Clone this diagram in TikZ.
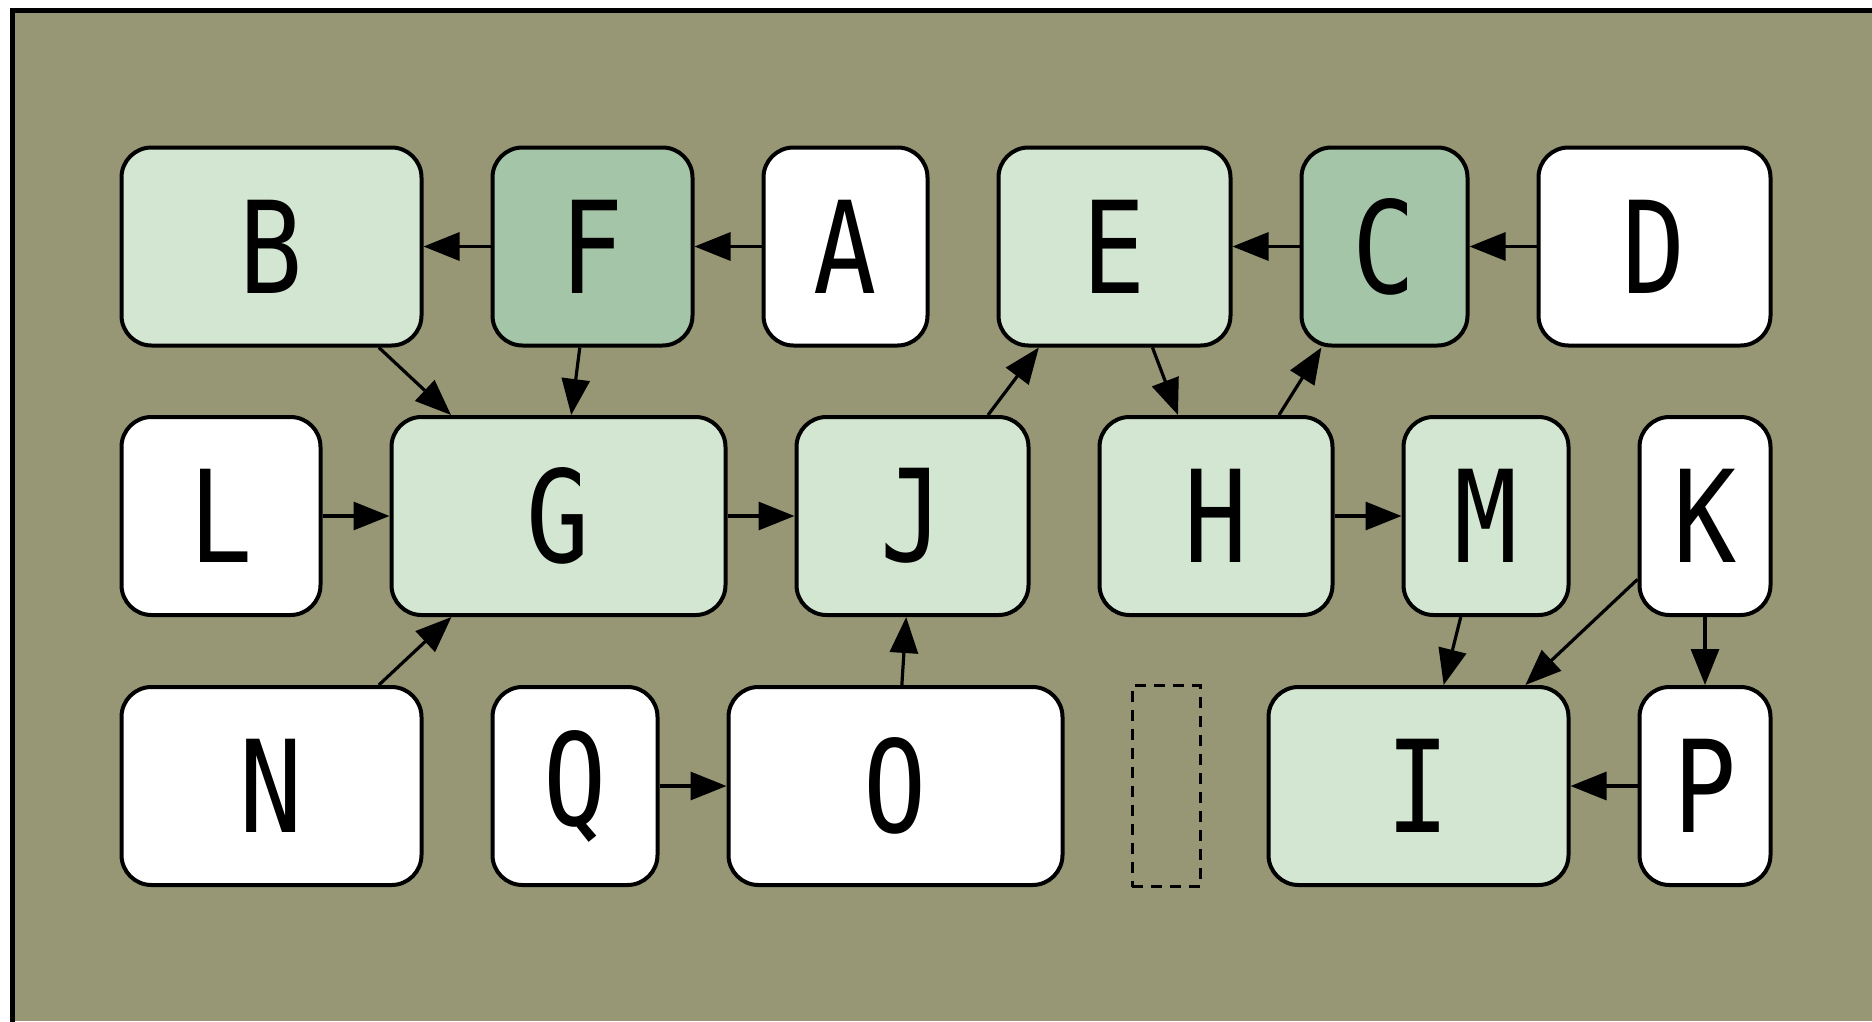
\documentclass[tikz,border=0pt]{standalone}
\usepackage{fontspec}
\setmonofont[FakeStretch=0.82]{DejaVu Sans Mono}
\usetikzlibrary{arrows.meta}
\definecolor{bgolive}{HTML}{979776}
\definecolor{lightgr}{HTML}{D3E6D1}
\definecolor{darkgr}{HTML}{A5C5A8}
\tikzset{
  box/.style={draw=black, line width=4pt, rounded corners=30pt, minimum height=198pt,
    inner sep=0pt, font=\ttfamily\fontsize{128}{128}\selectfont, text=black},
  lbox/.style={box, fill=lightgr},
  dbox/.style={box, fill=darkgr},
  wbox/.style={box, fill=white},
  edge/.style={draw=black, line width=3.2pt, -{Triangle[length=36pt,width=28pt]}},
}
\begin{document}
\begin{tikzpicture}[x=1pt,y=-1pt]
\fill[white] (0,0) rectangle (1872,1021);
\useasboundingbox (0,0) rectangle (1872,1021);
\fill[bgolive] (12.5,10.8) rectangle (1872,1021);
\draw[line width=5pt] (12.5,1030) -- (12.5,10.8) -- (1880,10.8);

% row 1
\node[lbox, minimum width=300pt] (B) at (271.5,246.5) {B};
\node[dbox, minimum width=200pt] (F) at (592.5,246.5) {F};
\node[wbox, minimum width=164pt] (A) at (845.5,246.5) {A};
\node[lbox, minimum width=232pt] (E) at (1114.5,246.5) {E};
\node[dbox, minimum width=166pt] (C) at (1384.5,246.5) {C};
\node[wbox, minimum width=232pt] (D) at (1654.5,246.5) {D};
% row 2
\node[wbox, minimum width=199pt] (L) at (221,516) {L};
\node[lbox, minimum width=334pt] (G) at (558.5,516) {G};
\node[lbox, minimum width=232pt] (J) at (912.5,516) {J};
\node[lbox, minimum width=233pt] (H) at (1216,516) {H};
\node[lbox, minimum width=165pt] (M) at (1486,516) {M};
\node[wbox, minimum width=131pt] (K) at (1705,516) {K};
% row 3
\node[wbox, minimum width=300pt] (N) at (271.5,786) {N};
\node[wbox, minimum width=165pt] (Q) at (575,786) {Q};
\node[wbox, minimum width=334pt] (O) at (895.5,786) {O};
\node[draw=black, dashed, dash pattern=on 11pt off 8pt, line width=3pt, minimum width=68pt, minimum height=201pt, inner sep=0pt] (X) at (1166,786) {};
\node[lbox, minimum width=300pt] (I) at (1418.5,786) {I};
\node[wbox, minimum width=131pt] (P) at (1705,786) {P};

% edges
\draw[edge] (F) -- (B);
\draw[edge] (A) -- (F);
\draw[edge] (C) -- (E);
\draw[edge] (D) -- (C);
\draw[edge] (B) -- (G);
\draw[edge] (F) -- (G);
\draw[edge] (L) -- (G);
\draw[edge] (G) -- (J);
\draw[edge] (J) -- (E);
\draw[edge] (E) -- (H);
\draw[edge] (H) -- (C);
\draw[edge] (H) -- (M);
\draw[edge] (M) -- (I);
\draw[edge] (K) -- (I);
\draw[edge] (K) -- (P);
\draw[edge] (P) -- (I);
\draw[edge] (N) -- (G);
\draw[edge] (Q) -- (O);
\draw[edge] (O) -- (J);
\end{tikzpicture}
\end{document}
